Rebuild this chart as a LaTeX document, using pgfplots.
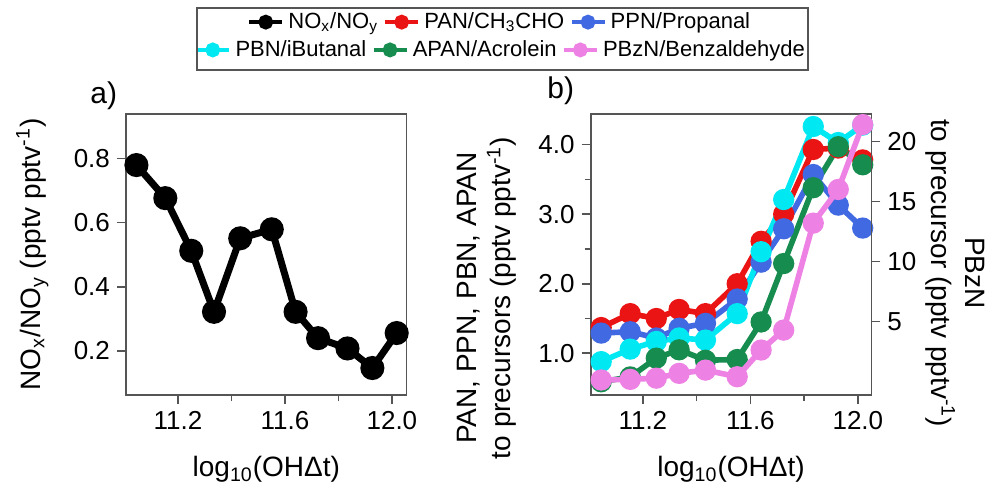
\documentclass[border=0pt]{standalone}
\usepackage{fontspec}
\setmainfont{Liberation Sans}
\usepackage{pgfplots}
\pgfplotsset{compat=1.18}

\definecolor{cRed}{RGB}{235,20,20}
\definecolor{cBlue}{RGB}{65,105,225}
\definecolor{cCyan}{RGB}{0,232,242}
\definecolor{cGreen}{RGB}{22,140,78}
\definecolor{cPink}{RGB}{238,130,228}
\definecolor{axgray}{RGB}{85,85,85}

\pgfplotsset{
  legend image code/.code={\draw[mark repeat=2,mark phase=2,#1,line width=2.2pt,mark size=2.6pt]
      plot coordinates {(0cm,0cm) (0.29cm,0cm) (0.58cm,0cm)};},
  panel/.style={
    scale only axis, width=140.3pt, height=140.5pt,
    axis line style={axgray, line width=0.8pt},
    tick style={axgray, line width=0.8pt},
    tick align=outside,
    major tick length=4.5pt, minor tick length=3pt,
    tick label style={font=\fontsize{13}{15}\selectfont},
    label style={font=\fontsize{14}{17}\selectfont},
    /pgf/number format/assume math mode=true,
    xmin=11.006, xmax=12.055,
    xtick={11.2,11.6,12.0}, minor xtick={11.4,11.8},
    xticklabel style={/pgf/number format/.cd, fixed, fixed zerofill, precision=1},
    xlabel={log\textsubscript{10}(OHΔt)},
    xlabel style={at={(axis description cs:0.5,-0.291)}, anchor=base},
    legend style={draw=none, fill=none, font=\fontsize{11}{13}\selectfont,
      /tikz/every even column/.append style={column sep=0.5pt}, inner sep=0pt, anchor=center},
    legend columns=3,
  },
  ser/.style={color=#1, line width=2.8pt, mark=*, mark size=3.9pt, mark options={solid}},
}

\begin{document}
\begin{tikzpicture}
\path[use as bounding box] (-63pt,-44pt) rectangle (431pt,197.5pt);

% a) NOx/NOy
\begin{axis}[panel, at={(0,0)}, anchor=south west,
  xtick pos=bottom, ytick pos=left,
  ymin=0.063, ymax=0.938,
  ytick={0.2,0.4,0.6,0.8},
  yticklabel style={/pgf/number format/.cd, fixed, fixed zerofill, precision=1},
  ylabel={NO\textsubscript{x}/NO\textsubscript{y} (pptv pptv\textsuperscript{-1})},
  ylabel style={at={(axis description cs:-0.306,0.5)}, anchor=base},
  legend style={at={(1.335,1.327)}},
  ]
  \addplot[color=black, line width=3.5pt, mark=*, mark size=4.25pt] coordinates {
    (11.045,0.779) (11.153,0.676) (11.250,0.512) (11.335,0.322) (11.433,0.551)
    (11.551,0.579) (11.640,0.322) (11.724,0.240) (11.834,0.208) (11.927,0.147)
    (12.018,0.256)
  };
  \addlegendentry{NO\textsubscript{x}/NO\textsubscript{y}}
  \addlegendimage{ser=cRed}
  \addlegendentry{PAN/CH\textsubscript{3}CHO}
  \addlegendimage{ser=cBlue}
  \addlegendentry{PPN/Propanal}
\end{axis}

% b) ratios, left scale
\begin{axis}[panel, at={(232.35pt,0)}, anchor=south west,
  xtick pos=bottom, ytick pos=left,
  xmax=12.05,
  ymin=0.40, ymax=4.44,
  ytick={1,2,3,4}, minor ytick={1.5,2.5,3.5},
  yticklabel style={/pgf/number format/.cd, fixed, fixed zerofill, precision=1},
  ylabel={PAN, PPN, PBN, APAN\\to precursors (pptv pptv\textsuperscript{-1})},
  ylabel style={at={(axis description cs:-0.369,0.345)}, anchor=center, align=center},
  legend style={at={(-0.318,1.228)}},
  ]
  % PAN/CH3CHO
  \addplot[ser=cRed, forget plot] coordinates {
    (11.045,1.37) (11.153,1.57) (11.250,1.50) (11.335,1.63) (11.433,1.57)
    (11.551,2.00) (11.640,2.61) (11.724,3.00) (11.834,3.93) (11.927,3.95)
    (12.018,3.78)
  };
  % PPN/Propanal
  \addplot[ser=cBlue, forget plot] coordinates {
    (11.045,1.29) (11.153,1.31) (11.250,1.22) (11.335,1.36) (11.433,1.43)
    (11.551,1.78) (11.640,2.31) (11.724,2.79) (11.834,3.57) (11.927,3.13)
    (12.018,2.80)
  };
  % PBN/iButanal
  \addplot[ser=cCyan] coordinates {
    (11.045,0.88) (11.153,1.06) (11.250,1.17) (11.335,1.22) (11.433,1.19)
    (11.551,1.57) (11.640,2.46) (11.724,3.21) (11.834,4.26) (11.927,4.03)
    (12.018,4.28)
  };
  \addlegendentry{PBN/iButanal}
  % APAN/Acrolein
  \addplot[ser=cGreen] coordinates {
    (11.045,0.59) (11.153,0.66) (11.250,0.93) (11.335,1.05) (11.433,0.90)
    (11.551,0.91) (11.640,1.45) (11.724,2.29) (11.834,3.38) (11.927,3.97)
    (12.018,3.71)
  };
  \addlegendentry{APAN/Acrolein}
  \addlegendimage{ser=cPink}
  \addlegendentry{PBzN/Benzaldehyde}
\end{axis}

% b) PBzN, right scale
\begin{axis}[panel, at={(232.35pt,0)}, anchor=south west,
  xmax=12.05,
  axis x line=none, axis y line*=right,
  ymin=-1.1, ymax=22.28,
  ytick={5,10,15,20},
  ylabel={PBzN\\to precursor (pptv pptv\textsuperscript{-1})},
  every axis y label/.style={at={(axis description cs:1.298,0.434)}, rotate=-90,
    anchor=center, align=center, font=\fontsize{14}{17}\selectfont},
  ]
  \addplot[ser=cPink] coordinates {
    (11.045,0.15) (11.153,0.20) (11.250,0.30) (11.335,0.70) (11.433,0.97)
    (11.551,0.42) (11.640,2.64) (11.724,4.30) (11.834,13.2) (11.927,16.0)
    (12.018,21.4)
  };
\end{axis}

\draw[axgray, line width=0.9pt] (35.5pt,162.5pt) rectangle (341pt,193.5pt);
\node[anchor=base west, inner sep=0pt, font=\fontsize{15}{18}\selectfont] at (-18pt,145.75pt) {a)};
\node[anchor=base west, inner sep=0pt, font=\fontsize{15}{18}\selectfont] at (210.5pt,148.15pt) {b)};
\end{tikzpicture}
\end{document}
